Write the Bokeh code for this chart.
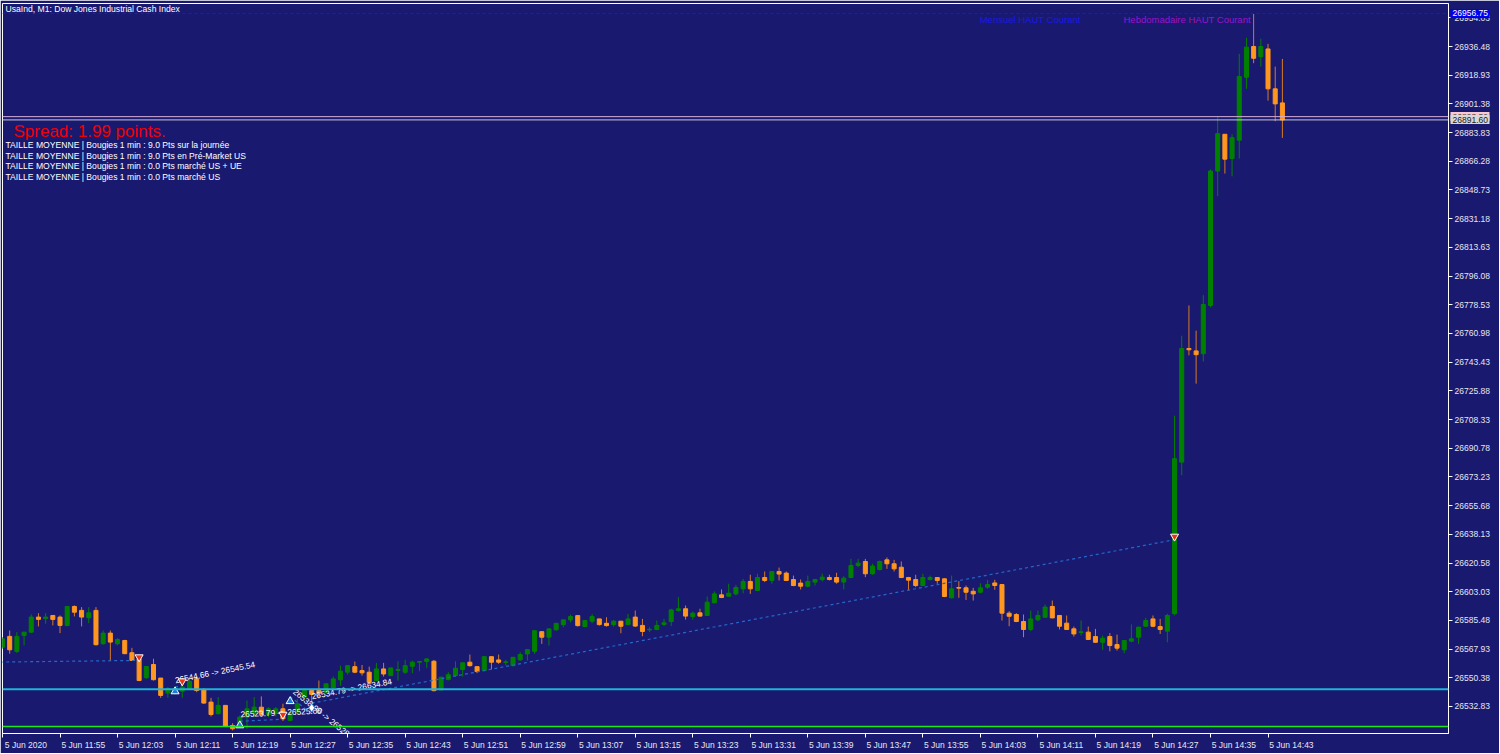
import math

from bokeh.plotting import figure
from bokeh.models import (
    ColumnDataSource,
    LinearAxis,
    FixedTicker,
    PrintfTickFormatter,
    Range1d,
    Span,
    Label,
)
from bokeh.core.properties import value
from bokeh.embed import file_html
from bokeh.resources import INLINE

# UsaInd M1, 5 Jun 2020, bars from 11:47 to 14:45 (one per minute)
opens = [
    26569.1, 26575.7, 26566.5, 26576.3, 26578.3, 26587.5, 26586.5, 26588.5, 26587.5, 26582.4,
    26594.0, 26591.6, 26587.1, 26591.6, 26571.2, 26577.7, 26571.2, 26573.2, 26565.7, 26562.0,
    26550.4, 26558.5, 26550.2, 26541.0, 26542.6, 26542.2, 26543.7, 26549.8, 26543.2, 26535.5,
    26528.4, 26533.5, 26521.2, 26520.6, 26526.3, 26528.4, 26532.4, 26527.9, 26528.4, 26531.4,
    26524.3, 26529.4, 26538.5, 26542.6, 26542.6, 26541.6, 26544.2, 26549.1, 26553.8, 26557.2,
    26554.8, 26553.8, 26548.7, 26555.8, 26551.7, 26554.9, 26553.8, 26557.4, 26559.9, 26560.3,
    26560.5, 26543.0, 26549.3, 26551.7, 26555.4, 26559.9, 26557.2, 26554.8, 26563.3, 26561.3,
    26559.7, 26557.8, 26561.3, 26565.0, 26566.6, 26578.6, 26575.2, 26579.7, 26582.9, 26585.8,
    26588.4, 26581.7, 26585.0, 26586.4, 26583.7, 26582.9, 26585.0, 26582.9, 26587.5, 26582.4,
    26579.7, 26579.9, 26583.0, 26584.8, 26591.5, 26592.6, 26587.9, 26590.1, 26588.5, 26596.2,
    26601.1, 26600.3, 26601.7, 26604.8, 26609.3, 26603.8, 26611.7, 26609.9, 26615.4, 26614.4,
    26610.5, 26608.3, 26606.4, 26608.9, 26610.5, 26611.7, 26611.7, 26608.9, 26611.7, 26619.1,
    26621.5, 26614.0, 26616.6, 26622.5, 26620.1, 26618.0, 26611.7, 26610.5, 26606.8, 26610.5,
    26611.7, 26610.9, 26599.3, 26605.6, 26605.4, 26603.3, 26602.7, 26605.8, 26608.4, 26607.4,
    26589.9, 26589.1, 26584.8, 26579.9, 26585.8, 26587.4, 26594.0, 26588.5, 26583.8, 26580.3,
    26578.1, 26578.3, 26575.6, 26572.1, 26575.6, 26570.7, 26567.5, 26572.8, 26575.2, 26581.9,
    26586.4, 26581.7, 26578.9, 26589.6, 26682.3, 26751.8, 26750.3, 26748.6, 26778.1, 26860.3,
    26882.8, 26868.0, 26879.2, 26917.7, 26936.5, 26930.3, 26935.0, 26910.6, 26902.0,
]
highs = [
    26575.3, 26579.3, 26578.3, 26578.3, 26589.1, 26589.9, 26589.9, 26588.5, 26588.5, 26594.0,
    26594.6, 26593.6, 26593.6, 26593.6, 26579.3, 26579.3, 26574.6, 26573.6, 26568.7, 26563.0,
    26557.3, 26562.0, 26550.2, 26544.7, 26545.1, 26548.7, 26549.8, 26550.4, 26544.1, 26538.1,
    26538.6, 26533.5, 26522.6, 26527.3, 26536.5, 26538.6, 26539.0, 26532.4, 26532.4, 26534.5,
    26530.4, 26537.5, 26543.6, 26543.6, 26548.7, 26546.7, 26551.1, 26557.8, 26557.8, 26560.3,
    26558.2, 26557.2, 26559.5, 26559.5, 26556.4, 26560.5, 26561.3, 26560.9, 26560.3, 26562.5,
    26561.3, 26551.1, 26553.8, 26560.5, 26559.9, 26564.6, 26557.2, 26563.3, 26563.3, 26564.6,
    26561.3, 26562.9, 26566.0, 26567.6, 26579.2, 26578.6, 26580.3, 26583.7, 26585.8, 26589.0,
    26588.4, 26585.8, 26589.4, 26586.4, 26587.4, 26585.8, 26585.0, 26589.4, 26591.5, 26586.4,
    26581.3, 26585.4, 26586.4, 26592.6, 26599.7, 26594.6, 26590.9, 26592.6, 26600.1, 26603.2,
    26604.4, 26607.9, 26607.2, 26610.9, 26613.4, 26614.0, 26615.4, 26615.4, 26617.8, 26615.4,
    26612.9, 26610.5, 26612.9, 26610.9, 26614.0, 26613.4, 26614.6, 26612.5, 26623.1, 26623.1,
    26623.1, 26620.1, 26622.1, 26624.0, 26622.5, 26621.5, 26612.1, 26613.4, 26614.0, 26612.9,
    26611.7, 26611.3, 26612.9, 26609.5, 26606.8, 26605.4, 26608.2, 26610.3, 26610.3, 26607.8,
    26591.1, 26589.9, 26589.1, 26591.5, 26591.5, 26595.2, 26597.6, 26588.5, 26588.5, 26581.7,
    26585.4, 26581.7, 26580.3, 26576.2, 26577.7, 26576.8, 26573.2, 26583.0, 26581.7, 26587.0,
    26588.5, 26586.4, 26589.5, 26710.7, 26759.6, 26778.1, 26762.7, 26784.4, 26861.3, 26893.9,
    26882.8, 26882.8, 26932.0, 26941.8, 26956.4, 26941.2, 26938.1, 26924.2, 26928.9,
]
lows = [
    26568.1, 26565.1, 26565.5, 26570.2, 26577.7, 26581.8, 26583.4, 26582.4, 26577.7, 26581.8,
    26587.9, 26581.8, 26583.8, 26570.2, 26570.6, 26560.6, 26570.2, 26565.1, 26561.0, 26548.3,
    26549.8, 26548.7, 26538.1, 26538.1, 26540.2, 26538.1, 26543.4, 26541.6, 26534.5, 26526.7,
    26527.9, 26520.2, 26518.2, 26520.2, 26519.2, 26526.3, 26526.7, 26526.3, 26526.7, 26523.9,
    26523.9, 26528.8, 26537.5, 26530.0, 26538.5, 26540.5, 26543.6, 26545.6, 26552.3, 26553.2,
    26551.7, 26547.0, 26548.3, 26551.1, 26551.7, 26548.7, 26552.7, 26553.2, 26554.4, 26556.4,
    26542.1, 26542.5, 26548.7, 26551.1, 26551.1, 26557.2, 26553.2, 26554.4, 26555.4, 26558.9,
    26557.8, 26557.4, 26560.9, 26560.9, 26565.0, 26571.1, 26570.1, 26579.2, 26581.3, 26584.3,
    26581.7, 26581.3, 26583.7, 26582.3, 26581.7, 26581.7, 26577.6, 26582.9, 26581.5, 26575.8,
    26578.3, 26579.5, 26582.0, 26582.0, 26590.9, 26586.0, 26586.0, 26587.7, 26588.1, 26596.2,
    26599.1, 26599.7, 26600.7, 26602.1, 26601.7, 26603.4, 26608.9, 26607.9, 26609.9, 26609.7,
    26606.4, 26604.4, 26605.8, 26606.8, 26609.3, 26609.9, 26607.9, 26604.4, 26611.3, 26618.0,
    26611.9, 26613.4, 26616.0, 26617.0, 26615.4, 26611.3, 26603.8, 26605.8, 26606.4, 26609.9,
    26607.9, 26599.7, 26598.9, 26599.3, 26598.0, 26597.6, 26602.1, 26604.8, 26604.2, 26585.4,
    26581.9, 26584.4, 26575.2, 26578.9, 26585.0, 26587.0, 26586.8, 26579.9, 26579.9, 26575.6,
    26576.2, 26573.8, 26571.7, 26567.5, 26566.6, 26567.0, 26565.4, 26572.1, 26571.1, 26581.7,
    26581.3, 26577.2, 26572.1, 26588.5, 26674.3, 26747.6, 26730.3, 26743.8, 26777.0, 26844.9,
    26858.8, 26857.1, 26868.0, 26910.6, 26926.3, 26924.2, 26903.4, 26890.8, 26880.6,
]
closes = [
    26574.2, 26567.5, 26575.7, 26578.3, 26587.5, 26586.1, 26587.5, 26586.1, 26582.4, 26594.0,
    26590.5, 26587.5, 26590.1, 26570.6, 26577.7, 26572.2, 26573.8, 26565.1, 26561.0, 26548.7,
    26557.3, 26549.2, 26539.6, 26543.7, 26543.7, 26544.7, 26548.3, 26542.6, 26534.9, 26527.9,
    26533.5, 26520.6, 26519.2, 26526.3, 26531.4, 26532.4, 26527.9, 26531.4, 26531.4, 26525.3,
    26528.8, 26534.5, 26542.6, 26540.2, 26540.9, 26546.7, 26549.7, 26554.4, 26557.8, 26553.8,
    26553.4, 26547.6, 26555.8, 26552.7, 26556.4, 26555.4, 26557.8, 26559.9, 26560.3, 26561.9,
    26542.5, 26550.7, 26552.3, 26556.2, 26559.5, 26557.8, 26554.2, 26563.3, 26559.9, 26559.9,
    26560.1, 26562.9, 26564.6, 26567.6, 26579.2, 26575.2, 26580.3, 26583.7, 26585.8, 26587.8,
    26582.3, 26585.4, 26587.8, 26582.9, 26582.3, 26585.0, 26581.9, 26586.4, 26582.0, 26578.7,
    26580.0, 26582.4, 26584.0, 26591.9, 26592.6, 26588.1, 26589.9, 26588.1, 26596.6, 26601.7,
    26599.5, 26602.1, 26605.6, 26609.3, 26604.8, 26611.7, 26609.9, 26615.4, 26613.8, 26609.9,
    26606.8, 26606.4, 26609.3, 26610.5, 26611.9, 26610.5, 26608.9, 26611.3, 26619.1, 26620.5,
    26614.0, 26618.7, 26621.5, 26620.1, 26617.0, 26611.7, 26610.1, 26606.8, 26611.7, 26611.7,
    26609.9, 26600.1, 26604.8, 26605.2, 26602.7, 26601.7, 26605.4, 26607.4, 26606.8, 26589.9,
    26588.0, 26584.8, 26579.9, 26586.4, 26588.5, 26593.6, 26587.0, 26581.9, 26579.9, 26577.2,
    26578.5, 26573.8, 26572.1, 26574.6, 26570.1, 26568.5, 26573.2, 26574.2, 26581.3, 26585.4,
    26581.9, 26579.9, 26588.5, 26684.4, 26751.8, 26751.0, 26748.0, 26778.7, 26860.3, 26883.2,
    26867.6, 26880.7, 26918.1, 26936.1, 26929.3, 26936.5, 26910.6, 26901.4, 26891.6,
]

# x axis: bar index of each labelled minute and its label
tick_bars = [0, 8, 16, 24, 32, 40, 48, 56, 64, 72, 80, 88, 96, 104, 112, 120, 128, 136, 144, 152, 160, 168, 176]
tick_labels = [
    "5 Jun 2020", "5 Jun 11:55", "5 Jun 12:03", "5 Jun 12:11", "5 Jun 12:19", "5 Jun 12:27",
    "5 Jun 12:35", "5 Jun 12:43", "5 Jun 12:51", "5 Jun 12:59", "5 Jun 13:07", "5 Jun 13:15",
    "5 Jun 13:23", "5 Jun 13:31", "5 Jun 13:39", "5 Jun 13:47", "5 Jun 13:55", "5 Jun 14:03",
    "5 Jun 14:11", "5 Jun 14:19", "5 Jun 14:27", "5 Jun 14:35", "5 Jun 14:43",
]
price_ticks = [
    26954.03, 26936.48, 26918.93, 26901.38, 26883.83, 26866.28, 26848.73, 26831.18, 26813.63,
    26796.08, 26778.53, 26760.98, 26743.43, 26725.88, 26708.33, 26690.78, 26673.23, 26655.68,
    26638.13, 26620.58, 26603.03, 26585.48, 26567.93, 26550.38, 26532.83,
]

# levels
monthly_high = 26956.75
ask_price = 26893.59
bid_price = 26891.60
cyan_level = 26543.4
green_level = 26520.6

# trade history (open bar/price -> close bar/price)
trade_open_bar = [-12, 24, 33, 40, 43]
trade_open_price = [26559.4, 26544.66, 26523.79, 26538.96, 26534.79]
trade_close_bar = [19, 25, 39, 43, 163]
trade_close_price = [26561.0, 26545.54, 26525.00, 26528.22, 26634.84]
trade_text = ["", "26544.66 -> 26545.54", "26523.79 -> 26525.00", "26538.96 -> 26528.22", "26534.79 -> 26634.84"]

buy_arrow_bar = [24, 33, 40]
buy_arrow_price = [26542.0, 26521.2, 26536.0]
close_arrow_bar = [19, 25, 39, 163]
close_arrow_price = [26563.0, 26548.3, 26527.9, 26636.8]
diamond_bar = [43]
diamond_price = [26532.0]

info_lines = [
    "TAILLE MOYENNE | Bougies 1 min : 9.0 Pts sur la journée",
    "TAILLE MOYENNE | Bougies 1 min : 9.0 Pts en Pré-Market US",
    "TAILLE MOYENNE | Bougies 1 min : 0.0 Pts marché US + UE",
    "TAILLE MOYENNE | Bougies 1 min : 0.0 Pts marché US",
]

BG = "#191970"
UP = "#008000"
DOWN = "#FF961E"
DOWN_WICK = "#D67A26"
TXT = "#E6E6F0"
FONT = "Liberation Sans"

FRAME_W, FRAME_H = 1446, 730
X0, X1 = 0.0, 201.1
Y0, Y1 = 26516.3, 26962.8
SCALE_W = 45  # width taken by the price scale (ticks + labels)
LABEL_W = 40  # measured width of one price label


def sx(x_ref):
    return x_ref - 2


def sy(y_ref):
    return 733 - y_ref


p = figure(
    frame_width=FRAME_W,
    frame_height=FRAME_H,
    x_range=Range1d(X0, X1),
    y_range=Range1d(Y0, Y1),
    x_axis_location=None,
    y_axis_location=None,
    output_backend="svg",
    toolbar_location=None,
    min_border_left=2,
    min_border_right=51,
    min_border_top=3,
    min_border_bottom=20,
    background_fill_color=BG,
    border_fill_color=BG,
    outline_line_color="white",
    outline_line_width=1,
)
p.xgrid.grid_line_color = None
p.ygrid.grid_line_color = None

yax = LinearAxis(
    ticker=FixedTicker(ticks=price_ticks),
    formatter=PrintfTickFormatter(format="%.2f"),
    axis_line_color="white",
    major_tick_line_color="white",
    major_tick_in=0,
    major_tick_out=4,
    minor_tick_line_color=None,
    major_label_text_color=TXT,
    major_label_text_font=FONT,
    major_label_text_font_size="8.5px",
    major_label_standoff=2,
)
p.add_layout(yax, "right")


# price boxes on the scale: a thick minor tick for the box, a label pulled back over it
def box_axis(price, fill):
    return LinearAxis(
        ticker=FixedTicker(ticks=[], minor_ticks=[price]),
        axis_line_color=None,
        major_tick_line_color=None,
        major_tick_in=0,
        major_tick_out=0,
        minor_tick_line_color=fill,
        minor_tick_line_width=9,
        minor_tick_line_cap="butt",
        minor_tick_in=SCALE_W - 3,
        minor_tick_out=-3,
        major_label_standoff=0,
    )


def text_axis(price, color):
    return LinearAxis(
        ticker=FixedTicker(ticks=[price]),
        formatter=PrintfTickFormatter(format="%.2f"),
        axis_line_color=None,
        major_tick_line_color=None,
        major_tick_in=0,
        major_tick_out=0,
        minor_tick_line_color=None,
        major_label_text_color=color,
        major_label_text_font=FONT,
        major_label_text_font_size="8.5px",
        major_label_standoff=-LABEL_W,
    )


for price, fill, color in [
    (monthly_high, "#0000F0", "white"),
    (ask_price, "#F8C8D2", "#505050"),
    (bid_price, "#D8D8D8", "#202020"),
]:
    p.add_layout(box_axis(price, fill), "right")
    p.add_layout(text_axis(price, color), "right")

# tick marks at the bars, labels start at the tick (MT style)
xtick_axis = LinearAxis(
    ticker=FixedTicker(ticks=tick_bars),
    axis_line_color="white",
    major_tick_line_color="white",
    major_tick_in=0,
    major_tick_out=4,
    minor_tick_line_color=None,
    major_label_text_alpha=0,
    major_label_text_font_size="1px",
    major_label_standoff=0,
)
p.add_layout(xtick_axis, "below")

label_pos = [b + 3.25 for b in tick_bars]
xlab_axis = LinearAxis(
    ticker=FixedTicker(ticks=label_pos),
    major_label_overrides={pos: lab for pos, lab in zip(label_pos, tick_labels)},
    axis_line_color=None,
    major_tick_line_color=None,
    minor_tick_line_color=None,
    major_label_text_color=TXT,
    major_label_text_font=FONT,
    major_label_text_font_size="8.5px",
    major_label_standoff=-4,
)
p.add_layout(xlab_axis, "below")

bars = list(range(len(closes)))
is_up = [c >= o for o, c in zip(opens, closes)]
src = ColumnDataSource(
    data=dict(
        bar=bars,
        high=highs,
        low=lows,
        top=[max(o, c) for o, c in zip(opens, closes)],
        bottom=[min(o, c) for o, c in zip(opens, closes)],
        body=[UP if u else DOWN for u in is_up],
        wick=[UP if u else DOWN_WICK for u in is_up],
    )
)
p.segment("bar", "high", "bar", "low", source=src, line_color="wick", line_width=1)
p.vbar(
    x="bar",
    width=0.56,
    top="top",
    bottom="bottom",
    fill_color="body",
    line_color="body",
    line_width=1,
    source=src,
)

# horizontal levels
p.add_layout(Span(location=monthly_high, dimension="width", line_color="#1A1AE0", line_dash="3 3", line_width=1))
p.add_layout(Span(location=ask_price, dimension="width", line_color="#D8AED8", line_width=1))
p.add_layout(Span(location=bid_price, dimension="width", line_color="#C8C8D4", line_width=1))
p.add_layout(Span(location=cyan_level, dimension="width", line_color="#22B4D6", line_width=2))
p.add_layout(Span(location=green_level, dimension="width", line_color="#1EE61E", line_width=1.5))

# trades
p.segment(
    x0=trade_open_bar,
    y0=trade_open_price,
    x1=trade_close_bar,
    y1=trade_close_price,
    line_color="#2468C8",
    line_dash="3 3",
    line_width=1.2,
)

px_per_bar = FRAME_W / (X1 - X0)
px_per_pt = FRAME_H / (Y1 - Y0)
angles = [
    math.atan2((cp - op) * px_per_pt, (cb - ob) * px_per_bar)
    for ob, op, cb, cp in zip(trade_open_bar, trade_open_price, trade_close_bar, trade_close_price)
]
p.text(
    x=trade_open_bar,
    y=trade_open_price,
    text=trade_text,
    angle=angles,
    text_color="white",
    text_font=value(FONT),
    text_font_size="8.3px",
    text_align="left",
    text_baseline="bottom",
    x_offset=1,
    y_offset=-2,
)

p.scatter(buy_arrow_bar, buy_arrow_price, marker="triangle", size=8,
          fill_color="#1E7BE0", line_color="white", line_width=1)
p.scatter(close_arrow_bar, close_arrow_price, marker="inverted_triangle", size=8,
          fill_color="#F03214", line_color="white", line_width=1)
p.scatter(diamond_bar, diamond_price, marker="diamond", size=9,
          fill_color="white", line_color="#3C78C8", line_width=1)

# level captions
p.add_layout(Label(x=135.9, y=26953.0, text="Mensuel HAUT Courant", text_color="#1A1AE6",
                   text_font=FONT, text_font_size="9.5px", text_baseline="middle"))
p.add_layout(Label(x=155.9, y=26953.0, text="Hebdomadaire HAUT Courant", text_color="#9A14C8",
                   text_font=FONT, text_font_size="9.5px", text_baseline="middle"))

# texts of the chart window
p.add_layout(Label(x=sx(5), y=sy(3.5), x_units="screen", y_units="screen",
                   text="UsaInd, M1:  Dow Jones Industrial Cash Index", text_color="white",
                   text_font=FONT, text_font_size="8.6px", text_baseline="top"))
p.add_layout(Label(x=sx(13), y=sy(121.5), x_units="screen", y_units="screen",
                   text="Spread: 1.99 points.", text_color="#F00000",
                   text_font=FONT, text_font_size="17px", text_baseline="top"))
for k, line in enumerate(info_lines):
    p.add_layout(Label(x=sx(5), y=sy(139.5 + 10.7 * k), x_units="screen", y_units="screen",
                       text=line, text_color="white", text_font=FONT,
                       text_font_size="8.6px", text_baseline="top"))

open("out.html", "w").write(file_html(p, INLINE))
